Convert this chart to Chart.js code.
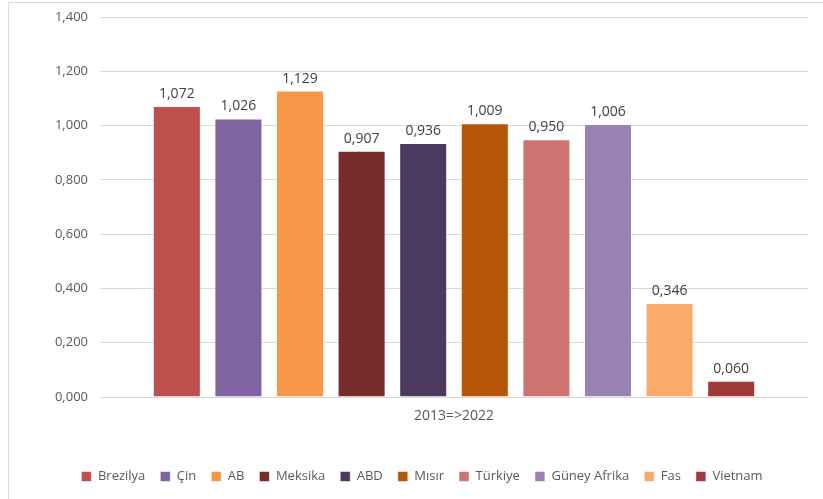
<!DOCTYPE html>
<html><head><meta charset="utf-8">
<script src="https://cdn.jsdelivr.net/npm/chart.js@4/dist/chart.umd.min.js"></script>
<style>
html,body{margin:0;padding:0;background:#fff;}
#wrap{position:relative;width:823px;height:499px;}
#frame{position:absolute;left:8px;top:2px;width:830px;height:510px;border:1px solid #d9d9d9;box-sizing:border-box;}
canvas{position:absolute;left:0;top:0;}
</style></head>
<body>
<div id="wrap"><div id="frame"></div><canvas id="c" width="823" height="499"></canvas></div>
<script>
const categories = ["2013=>2022"];
const countries = ["Brezilya","Çin","AB","Meksika","ABD","Mısır","Türkiye","Güney Afrika","Fas","Vietnam"];
const values = [1.072,1.026,1.129,0.907,0.936,1.009,0.950,1.006,0.346,0.060];
const colors = ["#C0504D","#8064A2","#F79646","#772C2A","#4B3A5E","#B65708","#CD7371","#9983B5","#F9AB6B","#A03A38"];
const yTicks = [0,0.2,0.4,0.6,0.8,1.0,1.2,1.4];

const fmt = v => v.toFixed(3).replace('.', ',');
const FONT = "'Open Sans', 'Noto Sans', sans-serif";

const labelPlugin = {
  id:'vals',
  afterLayout(chart){
    if (chart.legend){ chart.legend.left += 18; chart.legend.right += 18; }
  },
  afterDatasetsDraw(chart){
    const ctx = chart.ctx;
    ctx.save();
    ctx.font = "14px " + FONT;
    ctx.fillStyle = "#404040";
    ctx.textAlign = "center";
    ctx.textBaseline = "bottom";
    chart.data.datasets.forEach((ds,i)=>{
      const meta = chart.getDatasetMeta(i);
      meta.data.forEach((bar,j)=>{
        ctx.fillText(fmt(ds.data[j]), bar.x, bar.y - 5);
      });
    });
    ctx.restore();
  }
};

new Chart(document.getElementById('c'), {
  type:'bar',
  data:{
    labels: categories,
    datasets: countries.map((n,i)=>({
      label:n, data:[values[i]], backgroundColor:colors[i],
      borderColor:'rgba(255,255,255,0.5)', borderWidth:1,
      categoryPercentage:0.87, barPercentage:0.78
    }))
  },
  options:{
    responsive:false, animation:false, devicePixelRatio:1,
    layout:{padding:{top:17,right:15,left:0,bottom:6}},
    plugins:{
      legend:{position:'bottom', labels:{boxWidth:10, boxHeight:10, padding:15, color:'#595959', font:{family:FONT,size:13}}},
      tooltip:{enabled:false}
    },
    scales:{
      x:{
        grid:{display:false}, border:{display:false},
        ticks:{color:'#595959', font:{family:FONT,size:14}, padding:3},
        afterFit(s){ s.height = 58; s.paddingLeft = 0; s.paddingRight = 0; }
      },
      y:{
        min:0, max:1.4,
        afterBuildTicks(s){ s.ticks = yTicks.map(v=>({value:v})); },
        grid:{color:'#d9d9d9', drawTicks:false},
        border:{display:false},
        ticks:{color:'#595959', font:{family:FONT,size:13}, padding:12, callback:v=>fmt(v)},
        afterFit(s){ s.width = 100; s.paddingTop = 0; s.paddingBottom = 0; }
      }
    }
  },
  plugins:[labelPlugin]
});
</script>
</body></html>
